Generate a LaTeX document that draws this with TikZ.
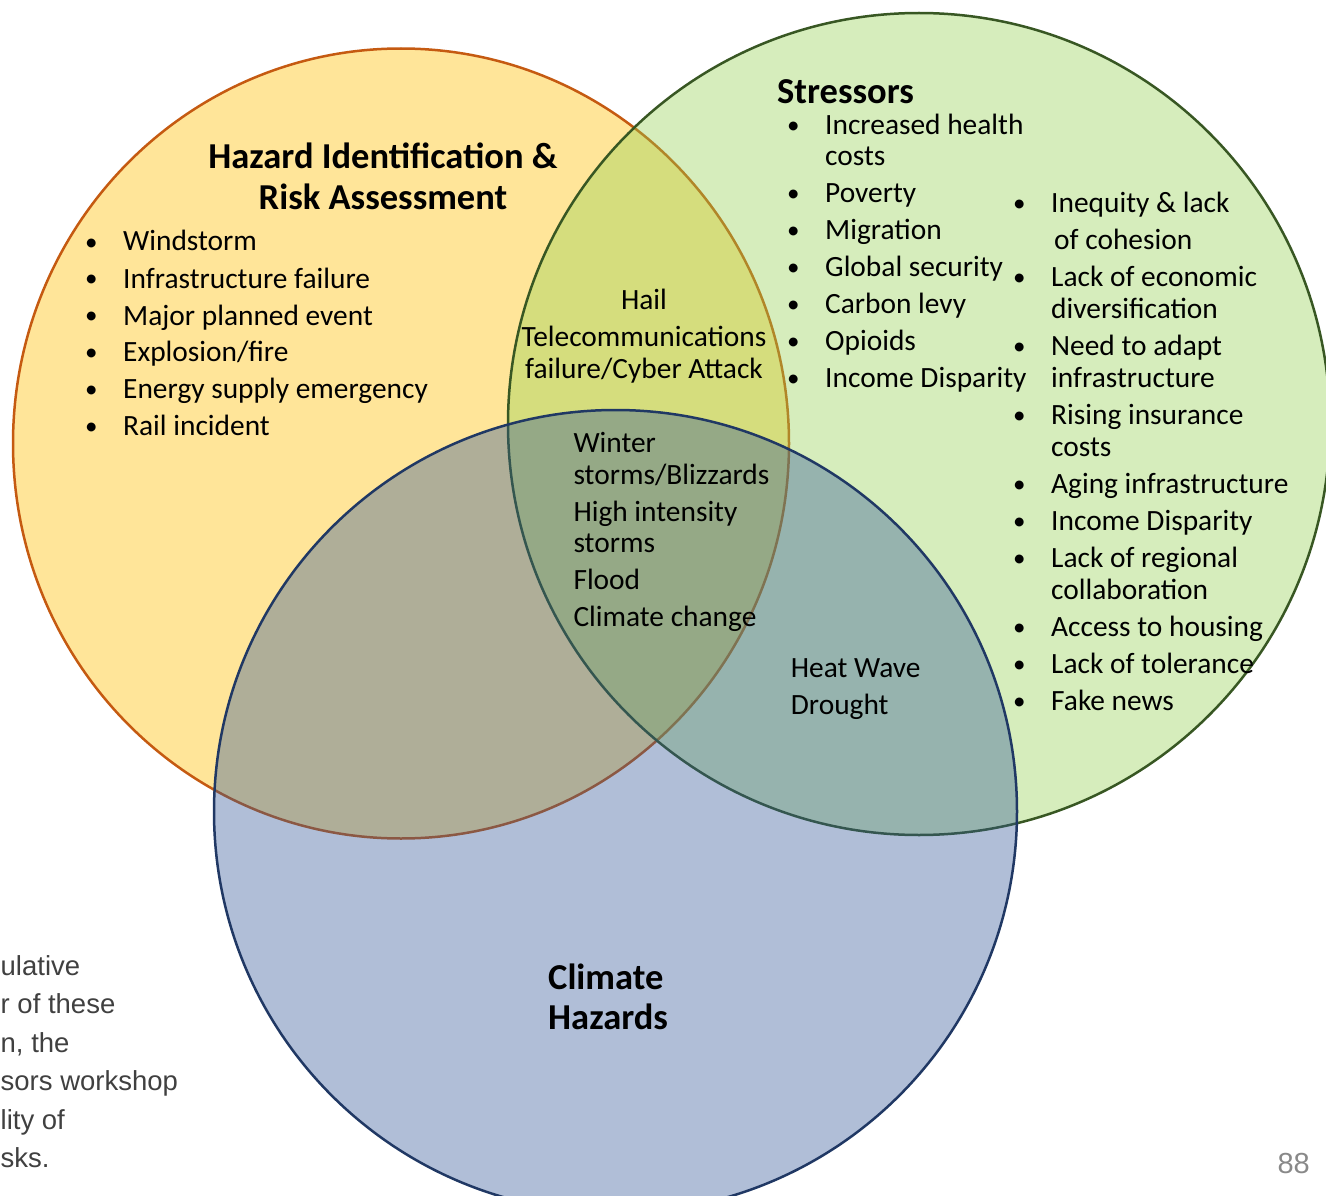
\documentclass[tikz,border=0pt]{standalone}
\usepackage{fontspec}
\setmainfont{Carlito}
\newfontfamily\arialfont{Liberation Sans}
\usetikzlibrary{shapes.geometric,positioning}
\definecolor{hirafill}{RGB}{255,229,153}
\definecolor{hiraline}{RGB}{197,90,17}
\definecolor{stressfill}{RGB}{146,208,80}
\definecolor{stressline}{RGB}{56,87,35}
\definecolor{climfill}{RGB}{47,85,151}
\definecolor{climline}{RGB}{32,56,100}
\definecolor{notegray}{RGB}{64,64,64}
\definecolor{pagegray}{RGB}{137,137,137}
\newcommand{\bul}{\makebox[39pt][l]{\hspace{1pt}\raisebox{1pt}{\fontsize{25}{25}\selectfont\textbullet}}}
\newcommand{\cont}{\hspace*{39pt}}

\begin{document}
\begin{tikzpicture}[x=1pt, y=-1pt,
  venn/.style={ellipse, draw, line width=2.5pt, inner sep=0pt},
  txt/.style={inner sep=0pt, anchor=base west, font=\fontsize{29.4}{31}\selectfont},
  ttl/.style={inner sep=0pt, anchor=base west, font=\fontsize{36.5}{40}\selectfont\bfseries},
  note/.style={inner sep=0pt, anchor=base west, text=notegray, font=\arialfont\fontsize{27.5}{38.5}\selectfont}]
\useasboundingbox (0,0) rectangle (1326,1196);

% circles
\node[venn, draw=hiraline, fill=hirafill, minimum width=776pt, minimum height=790pt] (hira) at (401,443.5) {};
\node[venn, draw=stressline, fill=stressfill, fill opacity=0.38, minimum width=822pt, minimum height=822pt] (stress) at (919,424) {};
\node[venn, draw=climline, fill=climfill, fill opacity=0.38, minimum width=803pt, minimum height=803pt] (climate) at (615.5,811.5) {};

% Hazard Identification & Risk Assessment
\node[ttl, anchor=base] (hira-title) at (383,169) {
    \begin{minipage}[t]{420pt}\centering
    Hazard Identification \&\\
    Risk Assessment
    \end{minipage}
};
\node[txt] (hira-list) at (84,251) {
    \begin{minipage}[t]{400pt}
    \bul Windstorm\\[6pt]
    \bul Infrastructure failure\\[6pt]
    \bul Major planned event\\[6pt]
    \bul Explosion/fire\\[6pt]
    \bul Energy supply emergency\\[6pt]
    \bul Rail incident
    \end{minipage}
};

% Stressors
\node[ttl] (stress-title) at (777,104) {Stressors};
\node[txt] (stress-list-a) at (786,135) {
    \begin{minipage}[t]{300pt}
    \bul Increased health\\
    \cont costs\\[6pt]
    \bul Poverty\\[6pt]
    \bul Migration\\[6pt]
    \bul Global security\\[6pt]
    \bul Carbon levy\\[6pt]
    \bul Opioids\\[6pt]
    \bul Income Disparity
    \end{minipage}
};
\node[txt, font=\fontsize{29.4}{32}\selectfont] (stress-list-b) at (1012,212.5) {
    \begin{minipage}[t]{320pt}
    \bul Inequity \& lack\\[5pt]
    \hspace*{42pt}of cohesion\\[5pt]
    \bul Lack of economic\\
    \cont diversification\\[5pt]
    \bul Need to adapt\\
    \cont infrastructure\\[5pt]
    \bul Rising insurance\\
    \cont costs\\[5pt]
    \bul Aging infrastructure\\[5pt]
    \bul Income Disparity\\[5pt]
    \bul Lack of regional\\
    \cont collaboration\\[5pt]
    \bul Access to housing\\[5pt]
    \bul Lack of tolerance\\[5pt]
    \bul Fake news
    \end{minipage}
};

% overlaps
\node[txt, anchor=base, font=\fontsize{29.4}{32}\selectfont] (hail-text) at (644,309.3) {
    \begin{minipage}[t]{300pt}\centering
    Hail\\[5pt]
    Telecommunications\\
    failure/Cyber Attack
    \end{minipage}
};
\node[txt, font=\fontsize{29.4}{31.5}\selectfont] (core-text) at (573.3,452.7) {
    \begin{minipage}[t]{300pt}
    Winter\\
    storms/Blizzards\\[5.5pt]
    High intensity\\
    storms\\[5.5pt]
    Flood\\[5.5pt]
    Climate change
    \end{minipage}
};
\node[txt] (heat-text) at (790.7,677) {
    \begin{minipage}[t]{200pt}
    Heat Wave\\[6pt]
    Drought
    \end{minipage}
};

% Climate Hazards
\node[ttl] (climate-title) at (548,989) {
    \begin{minipage}[t]{200pt}
    Climate\\
    Hazards
    \end{minipage}
};

% side note and page number
\node[note] (note-text) at (0.5,975) {
    \begin{minipage}[t]{300pt}
    ulative\\
    r of these\\
    n, the\\
    sors workshop\\
    lity of\\
    sks.
    \end{minipage}
};
\node[inner sep=0pt, anchor=base east, text=pagegray, font=\arialfont\fontsize{29}{34}\selectfont] (page-num) at (1310,1173) {88};
\end{tikzpicture}
\end{document}
